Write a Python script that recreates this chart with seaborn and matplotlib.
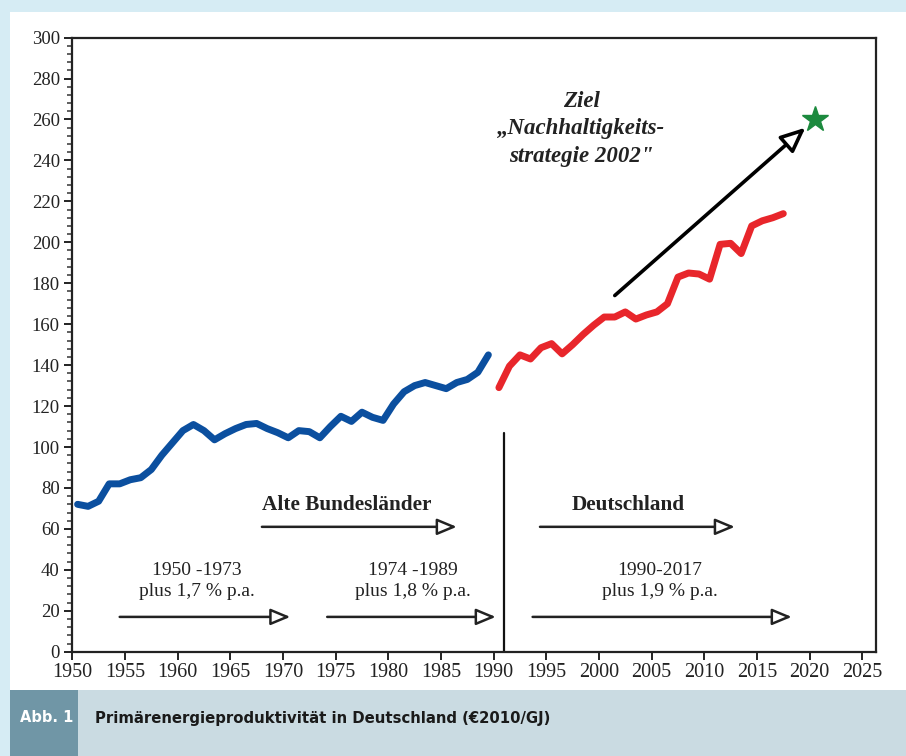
import matplotlib
matplotlib.use("Agg")
import matplotlib.pyplot as plt
import seaborn as sns
import pandas as pd
from matplotlib.patches import Rectangle
from matplotlib.ticker import MultipleLocator

# Primaerenergieproduktivitaet, alte Bundeslaender 1950-1989 (EUR2010/GJ)
west_years = list(range(1950, 1990))
west_values = [72, 71, 73.5, 82, 82, 84, 85, 89, 96, 102,
               108, 111, 108, 103.5, 106.5, 109, 111, 111.5, 109, 107,
               104.5, 108, 107.5, 104.5, 110, 115, 112.5, 117, 114.5, 113,
               121, 127, 130, 131.5, 130, 128.5, 131.5, 133, 136.5, 145]

# Deutschland 1990-2017
de_years = list(range(1990, 2018))
de_values = [129, 139.5, 145, 143, 148.5, 150.5, 145.5, 150, 155, 159.5,
             163.5, 163.5, 166, 162.5, 164.5, 166, 170, 183, 185, 184.5,
             182, 199, 199.5, 194.5, 208, 210.5, 212, 214]

# Ziel Nachhaltigkeitsstrategie
target_year = 2020
target_value = 260
trend_start = (2001.5, 174)
trend_end = (2019.6, 256)

# period arrows: (start, end, y)
period_arrows = [(1954.5, 1970.7, 17), (1974.2, 1990.2, 17), (1993.7, 2018.3, 17),
                 (1968.0, 1986.5, 61), (1994.4, 2012.9, 61)]
period_labels = ["1950 -1973\nplus 1,7 % p.a.", "1974 -1989\nplus 1,8 % p.a.",
                 "1990-2017\nplus 1,9 % p.a."]
period_label_x = [1961.8, 1982.3, 2005.8]
region_labels = ["Alte Bundesländer", "Deutschland"]
region_label_x = [1976.1, 2002.8]
split_year = 1991
split_top = 107

x_ticks = list(range(1950, 2030, 5))
y_ticks = list(range(0, 320, 20))

west = pd.DataFrame({"Jahr": west_years, "Wert": west_values})
de = pd.DataFrame({"Jahr": de_years, "Wert": de_values})
# yearly values sit in the middle of the year
west["x"] = west["Jahr"] + 0.5
de["x"] = de["Jahr"] + 0.5

sns.set_style("ticks")
plt.rcParams['font.family'] = ['Liberation Serif', 'DejaVu Serif']

fig = plt.figure(figsize=(9.06, 7.56), dpi=100, facecolor='#d6ecf4')
# white panel and caption bar
fig.patches.append(Rectangle((10 / 906, 66 / 756), 1, 678 / 756, transform=fig.transFigure,
                             facecolor='white', edgecolor='none', zorder=-10))
fig.patches.append(Rectangle((10 / 906, 0), 1, 66 / 756, transform=fig.transFigure,
                             facecolor='#cadbe2', edgecolor='none', zorder=-10))
fig.patches.append(Rectangle((10 / 906, 0), 68 / 906, 66 / 756, transform=fig.transFigure,
                             facecolor='#7096a6', edgecolor='none', zorder=-9))
fig.text(20 / 906, 1 - 718 / 756, "Abb. 1", color='white', fontsize=10.5, fontweight='bold',
         va='center', ha='left', family=['DejaVu Sans'])
fig.text(95 / 906, 1 - 718 / 756, "Primärenergieproduktivität in Deutschland (€2010/GJ)",
         color='#1a1a1a', fontsize=10.7, fontweight='bold', va='center', ha='left',
         family=['DejaVu Sans'])

ax = fig.add_axes([72.3 / 906, 1 - 651.7 / 756, (876 - 72.3) / 906, (651.7 - 37.6) / 756])
ax.set_facecolor('white')

sns.lineplot(data=west, x="x", y="Wert", ax=ax, color='#0b4f9f', linewidth=5,
             solid_capstyle='round', solid_joinstyle='round', zorder=3)
sns.lineplot(data=de, x="x", y="Wert", ax=ax, color='#e8262b', linewidth=5,
             solid_capstyle='round', solid_joinstyle='round', zorder=3)
ax.plot([target_year + 0.5], [target_value], marker='*', markersize=19, color='#1c8a3e',
        markeredgecolor='#1c8a3e', zorder=4)

# trend arrow to target
ax.annotate("", xy=trend_end, xytext=trend_start,
            arrowprops=dict(arrowstyle='-|>,head_length=0.75,head_width=0.33', fc='white',
                            ec='black', lw=2.6, mutation_scale=20, shrinkA=0, shrinkB=0))
for x0, x1, yv in period_arrows:
    ax.annotate("", xy=(x1, yv), xytext=(x0, yv),
                arrowprops=dict(arrowstyle='-|>,head_length=0.6,head_width=0.25', fc='white',
                                ec='#222222', lw=1.8, mutation_scale=20, shrinkA=0, shrinkB=0))

for lbl, xv in zip(period_labels, period_label_x):
    ax.text(xv, 34.5, lbl, ha='center', va='center', fontsize=14, color='#222222',
            linespacing=1.25)
for lbl, xv in zip(region_labels, region_label_x):
    ax.text(xv, 71.5, lbl, ha='center', va='center', fontsize=15.3, fontweight='bold',
            color='#222222')
ax.text(1998.3, 255.5, "Ziel\n„Nachhaltigkeits-\nstrategie 2002\"", ha='center', va='center',
        fontsize=16.5, fontweight='bold', fontstyle='italic', color='#222222', linespacing=1.4)

ax.plot([split_year, split_year], [0, split_top], color='#111111', lw=1.6, zorder=2)

ax.set_xlim(1950, 2026.3)
ax.set_ylim(0, 300)
ax.set_xticks(x_ticks)
ax.set_yticks(y_ticks)
ax.yaxis.set_minor_locator(MultipleLocator(4))
ax.tick_params(axis='both', which='major', direction='out', length=6, width=1.4,
               colors='#222222', pad=2)
ax.tick_params(axis='x', which='major', labelsize=14.5)
ax.tick_params(axis='y', which='minor', direction='out', length=3.5, width=1.2, colors='#444444')
ax.tick_params(axis='y', which='major', pad=3, labelsize=13.5)
for s in ax.spines.values():
    s.set_visible(True)
    s.set_linewidth(1.6)
    s.set_color('#222222')
ax.set_xlabel("")
ax.set_ylabel("")

fig.savefig("out.png", dpi=100, facecolor=fig.get_facecolor())
